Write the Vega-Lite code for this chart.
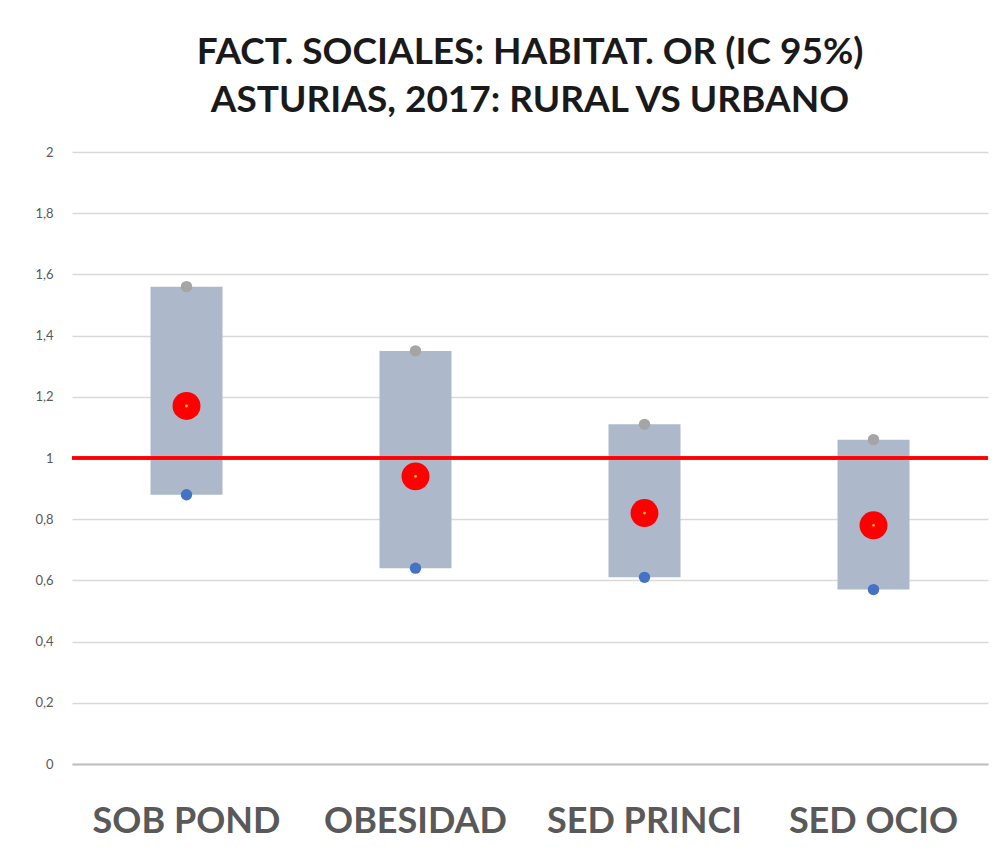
{
  "$schema": "https://vega.github.io/schema/vega-lite/v6.json",
  "width": 916,
  "height": 612,
  "autosize": {"type": "none"},
  "padding": {"left": 72, "top": 152, "right": 4, "bottom": 90},
  "background": "white",
  "title": {
    "text": ["FACT. SOCIALES: HABITAT. OR (IC 95%)", "ASTURIAS, 2017: RURAL VS URBANO"],
    "font": "Lato",
    "fontSize": 37,
    "fontWeight": "bold",
    "color": "#1a1a1a",
    "lineHeight": 48,
    "anchor": "middle",
    "offset": 26
  },
  "data": {
    "values": [
      {"cat": "SOB POND", "low": 0.88, "high": 1.56, "or": 1.17},
      {"cat": "OBESIDAD", "low": 0.64, "high": 1.35, "or": 0.94},
      {"cat": "SED PRINCI", "low": 0.61, "high": 1.11, "or": 0.82},
      {"cat": "SED OCIO", "low": 0.57, "high": 1.06, "or": 0.78}
    ]
  },
  "layer": [
    {
      "mark": {"type": "bar", "size": 72, "color": "#ADB9CA"},
      "encoding": {
        "x": {
          "field": "cat", "type": "nominal", "sort": null,
          "scale": {"paddingInner": 0, "paddingOuter": 0},
          "axis": {
            "title": null, "labelAngle": 0, "labelFont": "Lato", "labelFontSize": 36,
            "labelFontWeight": "bold", "labelColor": "#595959", "labelPadding": 40,
            "labelLimit": 0, "ticks": false, "domainColor": "#BFBFBF", "domainWidth": 2, "grid": false
          }
        },
        "y": {
          "field": "low", "type": "quantitative",
          "scale": {"domain": [0, 2], "nice": false},
          "axis": {
            "title": null, "values": [0, 0.2, 0.4, 0.6, 0.8, 1, 1.2, 1.4, 1.6, 1.8, 2],
            "labelExpr": "replace(format(datum.value, '~g'), '.', ',')",
            "labelFont": "Lato", "labelFontSize": 13, "labelColor": "#595959",
            "labelOverlap": false, "labelPadding": 19, "ticks": false, "domain": false,
            "gridColor": "#D9D9D9", "gridWidth": 1.5
          }
        },
        "y2": {"field": "high"}
      }
    },
    {
      "mark": {"type": "rule", "color": "#FF0000", "strokeWidth": 3},
      "encoding": {"y": {"datum": 1}}
    },
    {
      "mark": {"type": "circle", "color": "#A5A5A5", "opacity": 1, "size": 130},
      "encoding": {"x": {"field": "cat", "type": "nominal", "sort": null}, "y": {"field": "high", "type": "quantitative"}}
    },
    {
      "mark": {"type": "circle", "color": "#4472C4", "opacity": 1, "size": 130},
      "encoding": {"x": {"field": "cat", "type": "nominal", "sort": null}, "y": {"field": "low", "type": "quantitative"}}
    },
    {
      "mark": {"type": "circle", "color": "#FF0000", "opacity": 1, "size": 780},
      "encoding": {"x": {"field": "cat", "type": "nominal", "sort": null}, "y": {"field": "or", "type": "quantitative"}}
    },
    {
      "mark": {"type": "circle", "color": "#FFC000", "opacity": 1, "size": 8},
      "encoding": {"x": {"field": "cat", "type": "nominal", "sort": null}, "y": {"field": "or", "type": "quantitative"}}
    }
  ],
  "config": {"view": {"stroke": null}}
}
